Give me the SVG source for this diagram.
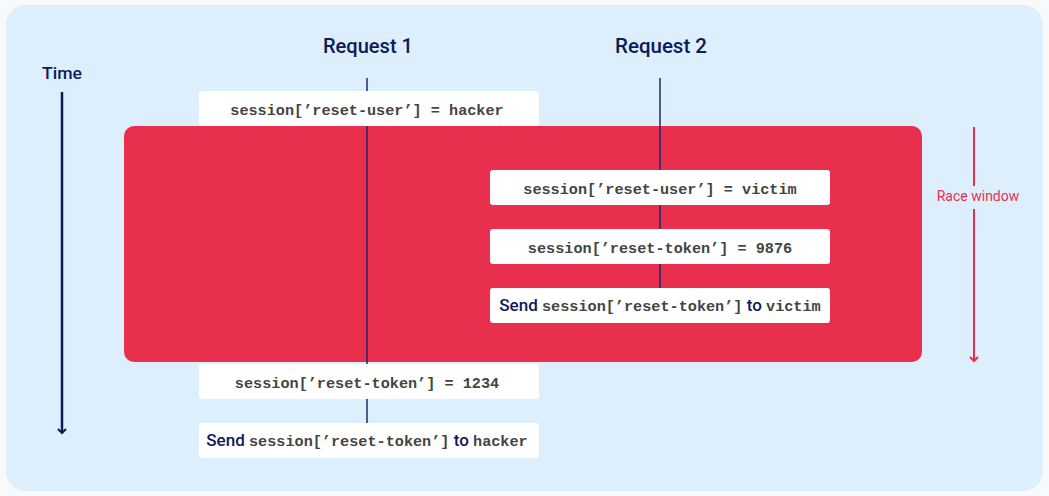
<svg xmlns="http://www.w3.org/2000/svg" width="1049" height="496" viewBox="0 0 1049 496">
<style>
.box{fill:#ffffff;}
.code{font-family:"Liberation Mono",monospace;font-weight:bold;font-size:15.2px;fill:#444;}
.hd{font-family:Roboto,"Liberation Sans",sans-serif;font-weight:500;fill:#0e1a5a;}
.life{stroke:#1b2a6b;stroke-width:1.5;}
</style>
<defs>
<marker id="ahNavy" viewBox="0 0 10 10" refX="5" refY="5" markerWidth="10" markerHeight="10" markerUnits="userSpaceOnUse" orient="auto"><path d="M1,1 L5,5 L1,9" fill="none" stroke="#0e1a5a" stroke-width="2"/></marker>
<marker id="ahRed" viewBox="0 0 10 10" refX="5" refY="5" markerWidth="10" markerHeight="10" markerUnits="userSpaceOnUse" orient="auto"><path d="M1,1 L5,5 L1,9" fill="none" stroke="#e8304e" stroke-width="2"/></marker>
</defs>
<rect x="0" y="0" width="1049" height="496" fill="#f7f9fb"/>
<rect x="6" y="5" width="1037" height="486" rx="20" fill="#ddeffd"/>
<g id="race-region"><rect x="124" y="126" width="798" height="236" rx="10" fill="#e8304e"/></g>
<g id="connectors">
<line class="life" x1="367" y1="78" x2="367" y2="424"/>
<line class="life" x1="660" y1="78" x2="660" y2="322"/>
<line x1="62" y1="92" x2="62" y2="433" stroke="#0e1a5a" stroke-width="2.5" marker-end="url(#ahNavy)"/>
<line x1="974" y1="127" x2="974" y2="186" stroke="#e8304e" stroke-width="2"/>
<line x1="974" y1="209" x2="974" y2="361" stroke="#e8304e" stroke-width="2" marker-end="url(#ahRed)"/>
</g>
<g id="labels">
<text class="hd" x="368" y="53" font-size="20" text-anchor="middle" textLength="90" lengthAdjust="spacingAndGlyphs">Request 1</text>
<text class="hd" x="661" y="53" font-size="20" text-anchor="middle" textLength="92" lengthAdjust="spacingAndGlyphs">Request 2</text>
<text class="hd" x="62" y="79" font-size="17" text-anchor="middle" textLength="40" lengthAdjust="spacingAndGlyphs">Time</text>
<text x="978" y="201" font-family="Roboto,'Liberation Sans',sans-serif" font-size="14" fill="#e8304e" text-anchor="middle">Race window</text>
</g>
<g id="n1"><rect class="box" x="199" y="91" width="340" height="35" rx="3"/><text class="code" x="367" y="115" text-anchor="middle">session[’reset-user’] = hacker</text></g>
<g id="n2"><rect class="box" x="490" y="170" width="340" height="35" rx="3"/><text class="code" x="660" y="194" text-anchor="middle">session[’reset-user’] = victim</text></g>
<g id="n3"><rect class="box" x="490" y="229" width="340" height="35" rx="3"/><text class="code" x="660" y="253" text-anchor="middle">session[’reset-token’] = 9876</text></g>
<g id="n4"><rect class="box" x="490" y="288" width="340" height="35" rx="3"/><text x="660" y="311" text-anchor="middle"><tspan class="hd" font-size="17">Send </tspan><tspan class="code">session[’reset-token’]</tspan><tspan class="hd" font-size="17"> to </tspan><tspan class="code">victim</tspan></text></g>
<g id="n5"><rect class="box" x="199" y="364" width="340" height="35" rx="3"/><text class="code" x="367" y="388" text-anchor="middle">session[’reset-token’] = 1234</text></g>
<g id="n6"><rect class="box" x="199" y="423" width="340" height="35" rx="3"/><text x="367" y="446" text-anchor="middle"><tspan class="hd" font-size="17">Send </tspan><tspan class="code">session[’reset-token’]</tspan><tspan class="hd" font-size="17"> to </tspan><tspan class="code">hacker</tspan></text></g>
</svg>
